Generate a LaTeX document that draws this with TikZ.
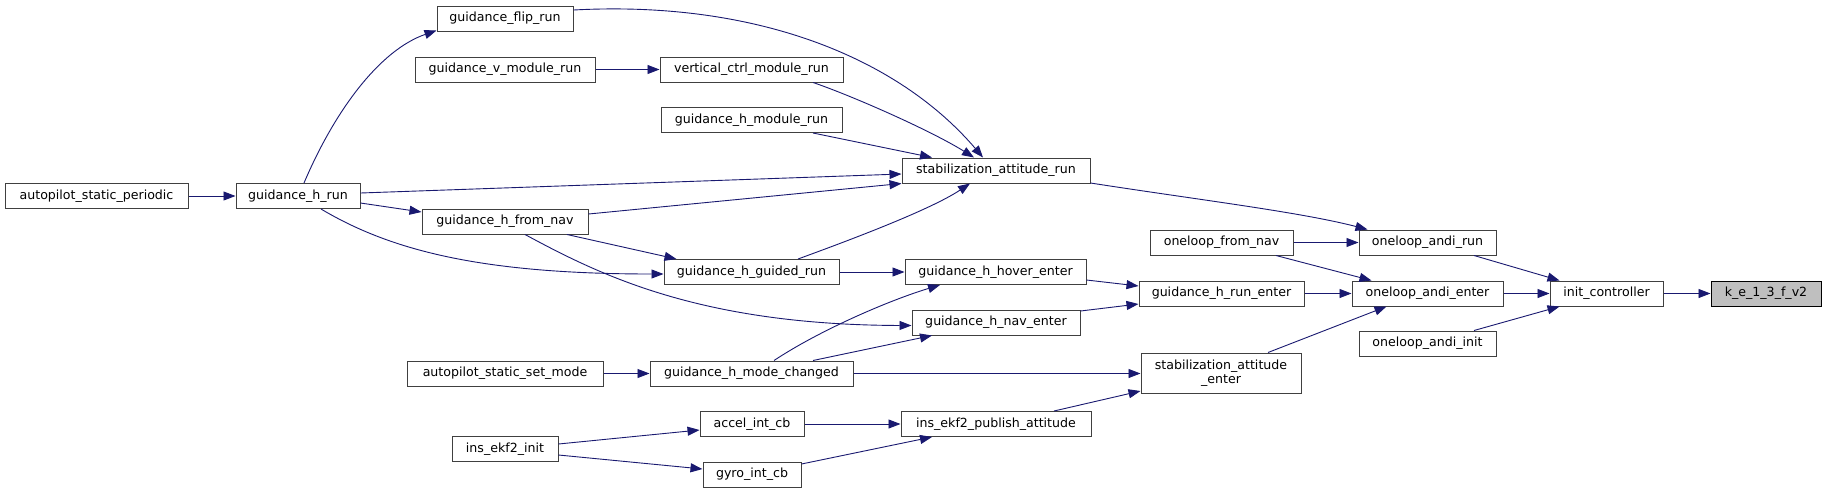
\documentclass[tikz,border=0pt]{standalone}
\usepackage{fontspec}
\setmainfont{DejaVu Sans}
\usetikzlibrary{arrows.meta,calc}
\definecolor{edgeblue}{HTML}{191970}
\definecolor{rootgray}{HTML}{BFBFBF}
\definecolor{boxline}{HTML}{404040}
\begin{document}
\begin{tikzpicture}[x=1pt,y=-1pt,
  fn/.style={draw=boxline,line width=1pt,fill=white,rectangle,inner sep=0pt,minimum height=25pt,
    font=\fontsize{12.6pt}{14pt}\selectfont},
  rootfn/.style={fn,draw=black,fill=rootgray},
  call/.style={draw=edgeblue,line width=0.9pt,-{Triangle[length=12pt,width=9pt]}}]
\fill[white] (0,0) rectangle (1827,493);
\useasboundingbox (0,0) rectangle (1827,493);

% nodes
\node[fn,minimum width=136pt] (flip) at (505,18.5) {guidance\_flip\_run};
\node[fn,minimum width=180pt] (vmod) at (505,69.5) {guidance\_v\_module\_run};
\node[fn,minimum width=183pt] (vctrl) at (751.5,69.5) {vertical\_ctrl\_module\_run};
\node[fn,minimum width=181pt] (hmod) at (751.5,120) {guidance\_h\_module\_run};
\node[fn,minimum width=188pt] (stabrun) at (996,170.5) {stabilization\_attitude\_run};
\node[fn,minimum width=183pt] (asp) at (96.5,196) {autopilot\_static\_periodic};
\node[fn,minimum width=124pt] (hrun) at (298,196) {guidance\_h\_run};
\node[fn,minimum width=166pt] (fromnav) at (505,221.5) {guidance\_h\_from\_nav};
\node[fn,minimum width=143pt] (olfromnav) at (1221.5,242.5) {oneloop\_from\_nav};
\node[fn,minimum width=137pt] (olrun) at (1427.5,242.5) {oneloop\_andi\_run};
\node[fn,minimum width=175pt] (guided) at (751.5,272) {guidance\_h\_guided\_run};
\node[fn,minimum width=181pt] (hover) at (995.5,272) {guidance\_h\_hover\_enter};
\node[fn,minimum width=165pt] (runenter) at (1221.5,293.5) {guidance\_h\_run\_enter};
\node[fn,minimum width=151pt] (olenter) at (1427.5,293.5) {oneloop\_andi\_enter};
\node[fn,minimum width=113pt] (initc) at (1606.5,293.5) {init\_controller};
\node[rootfn,minimum width=110pt] (ke) at (1766,293.5) {k\_e\_1\_3\_f\_v2};
\node[fn,minimum width=168pt] (naventer) at (996,322.5) {guidance\_h\_nav\_enter};
\node[fn,minimum width=137pt] (olinit) at (1427.5,343.5) {oneloop\_andi\_init};
\node[fn,minimum width=196pt] (setmode) at (505,373.5) {autopilot\_static\_set\_mode};
\node[fn,minimum width=203pt] (modech) at (751.5,373.5) {guidance\_h\_mode\_changed};
\node[fn,minimum width=160pt,minimum height=40pt,align=center] (stabenter) at (1221,373) {stabilization\_attitude\\\_enter};
\node[fn,minimum width=104pt] (accel) at (752,424) {accel\_int\_cb};
\node[fn,minimum width=190pt] (publish) at (996,424) {ins\_ekf2\_publish\_attitude};
\node[fn,minimum width=106pt] (ekfinit) at (505,449) {ins\_ekf2\_init};
\node[fn,minimum width=98pt] (gyro) at (752,474.5) {gyro\_int\_cb};

% connectors
\draw[call] ($(hrun.north)+(6,0)$) .. controls (335,110) and (380,50) .. ($(flip.south west)+(0,-1)$);
\draw[call] ($(flip.east)+(0,-8.5)$) .. controls (760,0) and (900,60) .. ($(stabrun.north)+(-13,0)$);
\draw[call] (vmod.east) -- (vctrl.west);
\draw[call] ($(vctrl.south)+(61.5,0)$) .. controls (850,95) and (930,130) .. ($(stabrun.north)+(-22,0)$);
\draw[call] ($(hmod.south)+(61.5,0)$) -- ($(stabrun.north)+(-64,0)$);
\draw[call] ($(hrun.east)+(0,-3)$) -- ($(stabrun.west)+(0,3.5)$);
\draw[call] ($(fromnav.east)+(0,-7.5)$) -- (stabrun.south west);
\draw[call] ($(guided.north)+(46.5,0)$) .. controls (850,240) and (930,210) .. ($(stabrun.south)+(-26,0)$);
\draw[call] (asp.east) -- (hrun.west);
\draw[call] ($(hrun.east)+(0,7)$) -- ($(fromnav.west)+(0,-9.5)$);
\draw[call] ($(hrun.south)+(23,0)$) .. controls (390,250) and (480,274) .. ($(guided.west)+(0,2)$);
\draw[call] ($(fromnav.south)+(62,0)$) -- ($(guided.north west)+(13,0)$);
\draw[call] ($(fromnav.south)+(20,0)$) .. controls (600,275) and (700,325) .. ($(naventer.west)+(0,3)$);
\draw[call] (guided.east) -- (hover.west);
\draw[call] ($(hover.east)+(0,8)$) -- ($(runenter.west)+(0,-7.5)$);
\draw[call] ($(naventer.east)+(0,-11.5)$) -- ($(runenter.west)+(0,10.5)$);
\draw[call] ($(modech.north)+(22.5,0)$) .. controls (820,330) and (890,300) .. ($(hover.south)+(-55.5,0)$);
\draw[call] ($(modech.north)+(61.5,0)$) -- ($(naventer.south)+(-64,0)$);
\draw[call] (setmode.east) -- (modech.west);
\draw[call] (modech.east) -- (stabenter.west |- modech.east);
\draw[call] ($(ekfinit.east)+(0,-5)$) -- ($(accel.west)+(0,6)$);
\draw[call] ($(ekfinit.east)+(0,6)$) -- ($(gyro.west)+(0,-5.5)$);
\draw[call] (accel.east) -- (publish.west);
\draw[call] ($(gyro.east)+(0,-10.5)$) -- ($(publish.south)+(-64,0)$);
\draw[call] ($(publish.north)+(58,0)$) -- ($(stabenter.west)+(0,18)$);
\draw[call] ($(stabrun.east)+(0,12.5)$) .. controls (1200,200) and (1300,212) .. ($(olrun.north west)+(9,0)$);
\draw[call] (olfromnav.east) -- (olrun.west);
\draw[call] ($(olfromnav.south)+(54.5,0)$) -- ($(olenter.north west)+(20,0)$);
\draw[call] (runenter.east) -- (olenter.west);
\draw[call] ($(stabenter.north)+(47,0)$) -- ($(olenter.south west)+(35,0)$);
\draw[call] ($(olrun.south)+(46.5,0)$) -- ($(initc.north west)+(10,0)$);
\draw[call] (olenter.east) -- (initc.west);
\draw[call] ($(olinit.north)+(46.5,0)$) -- ($(initc.south west)+(10,0)$);
\draw[call] (initc.east) -- (ke.west);
\end{tikzpicture}
\end{document}
